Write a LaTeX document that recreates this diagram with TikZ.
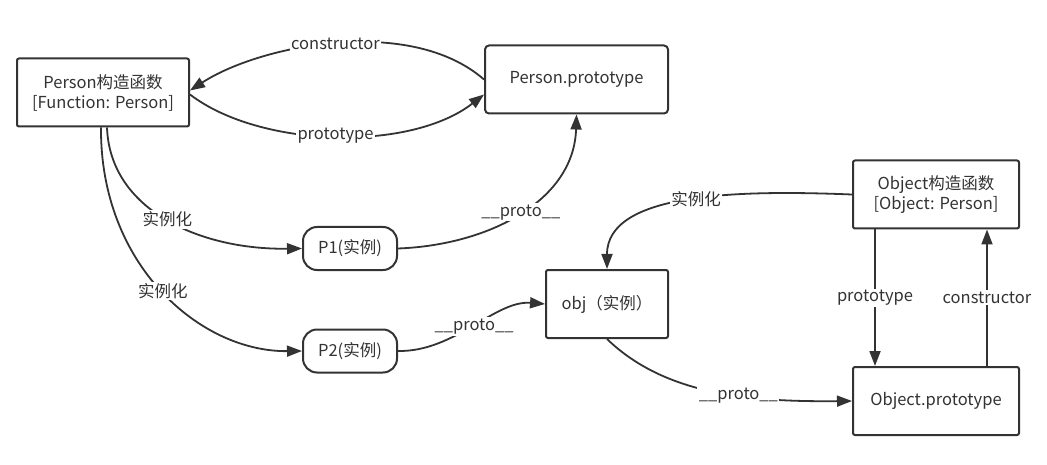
\documentclass[tikz,border=0pt]{standalone}
\usepackage{fontspec}
\setmainfont{Noto Sans CJK SC}
\usetikzlibrary{arrows.meta}
\definecolor{ink}{HTML}{333333}
\begin{document}
\begin{tikzpicture}[x=1pt,y=-1pt,
    every node/.style={text=ink,font=\fontsize{16.5}{20}\selectfont},
    box/.style={draw=ink,line width=2pt,rounded corners=2pt,align=center,
      minimum height=68pt,inner sep=0pt},
    pill/.style={draw=ink,line width=2pt,rounded corners=14pt,
      minimum width=94pt,minimum height=43pt,inner sep=0pt},
    lbl/.style={fill=white,inner sep=1.5pt},
    link/.style={draw=ink,line width=1.8pt,-{Triangle[length=15pt,width=11pt]}}]
  \useasboundingbox (0,0) rectangle (1047,465);
  \fill[white] (0,0) rectangle (1047,465);
  \draw
    (103,92.5) node[box,minimum width=172pt] (pc){Person构造函数\\{}[Function: Person]}
    (576.5,79.5) node[box,minimum width=183pt,rounded corners=4pt] (pp){Person.prototype}
    (350,248.5) node[pill] (p1){P1(实例)}
    (350,351) node[pill] (p2){P2(实例)}
    (607,304) node[box,minimum width=122pt] (obj){obj（实例）}
    (936,194.5) node[box,minimum width=166pt] (oc){Object构造函数\\{}[Object: Person]}
    (936,401) node[box,minimum width=166pt] (op){Object.prototype};
  \begin{scope}[every path/.style={link}]
    \draw (pp.west) .. controls (410,15) and (260,45) .. ([yshift=2pt]pc.east)
      node[lbl,pos=0.5] (l1){constructor};
    \draw ([yshift=-2pt]pc.east) .. controls (260,148) and (410,152) .. ([yshift=-15pt]pp.west)
      node[lbl,pos=0.5] (l2){prototype};
    \draw ([xshift=4pt]pc.south) .. controls (110,210) and (200,250) .. (p1.west)
      node[lbl,pos=0.5] (l3){实例化};
    \draw ([xshift=-2pt]pc.south) .. controls (100,265) and (200,352) .. (p2.west)
      node[lbl,pos=0.5] (l4){实例化};
    \draw (p1.east) .. controls (490,245) and (574,200) .. (pp.south)
      node[lbl,pos=0.5] (l5){\_\_proto\_\_};
    \draw (p2.east) .. controls (455,352) and (495,300) .. (obj.west)
      node[lbl,pos=0.5] (l6){\_\_proto\_\_};
    \draw (oc.west) .. controls (740,190) and (607,192) .. (obj.north)
      node[lbl,pos=0.47] (l7){实例化};
    \draw (obj.south) .. controls (665,395) and (750,402) .. (op.west)
      node[lbl,pos=0.6] (l8){\_\_proto\_\_};
    \draw ([xshift=-61pt]oc.south) -- ([xshift=-61pt]op.north)
      node[lbl,midway] (l9){prototype};
    \draw ([xshift=51pt]op.north) -- ([xshift=51pt]oc.south)
      node[lbl,midway] (l10){constructor};
  \end{scope}
\end{tikzpicture}
\end{document}
